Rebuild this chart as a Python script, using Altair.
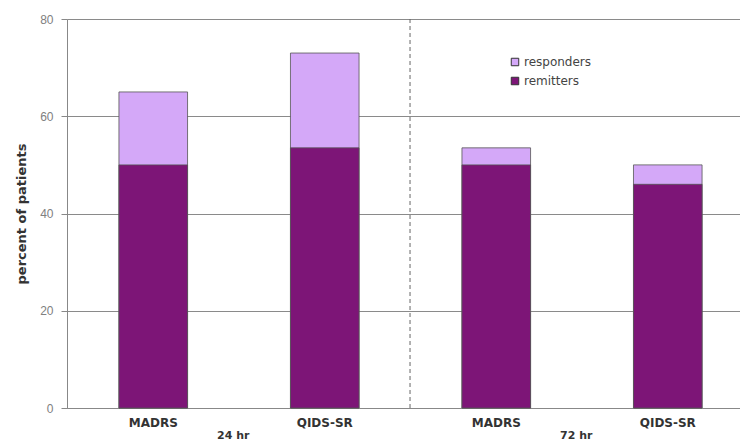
import altair as alt
import pandas as pd

ids = ["MADRS|24 hr", "QIDS-SR|24 hr", "MADRS|72 hr", "QIDS-SR|72 hr"]
timepoints = ["24 hr", "24 hr", "72 hr", "72 hr"]
responders = [65, 73, 53.5, 50]
remitters = [50, 53.5, 50, 46]
measures = ["responders", "remitters"]
colors = ["#D4A8F8", "#7D1577"]
separator_after = [2]  # dashed line after the 2nd bar (between 24 hr and 72 hr)

rows = []
for m, vals in zip(measures, [responders, remitters]):
    for i, v in zip(ids, vals):
        rows.append({"id": i, "measure": m, "value": v})
bars_df = pd.DataFrame(rows)

groups_df = pd.DataFrame({"id": [ids[0], ids[2]], "label": ["24 hr", "72 hr"]})
sep_df = pd.DataFrame({"pos": separator_after})

xscale = alt.Scale(domain=ids, paddingInner=0.6, paddingOuter=0.262, align=0.578)
yscale = alt.Scale(domain=[0, 80])

bars = alt.Chart(bars_df).mark_bar(stroke="#555555", strokeWidth=0.8).encode(
    x=alt.X("id:N", scale=xscale, sort=ids,
            axis=alt.Axis(title=None, labelAngle=0, ticks=False,
                          labelExpr="split(datum.label, '|')[0]",
                          labelFont="DejaVu Sans", labelFontWeight="bold",
                          labelFontSize=12, labelColor="#333333", labelPadding=9,
                          domainColor="#888888", grid=False)),
    y=alt.Y("value:Q", scale=yscale, stack=None,
            axis=alt.Axis(title="percent of patients", values=[0, 20, 40, 60, 80],
                          titleFont="DejaVu Sans", titleFontSize=13, titleFontWeight="bold",
                          titleColor="#333333", titlePadding=11,
                          labelFont="Liberation Sans", labelFontSize=12, labelColor="#808080",
                          labelPadding=8, tickSize=6, tickColor="#888888",
                          domainColor="#888888", gridColor="#8a8a8a", gridWidth=1)),
    color=alt.Color("measure:N", scale=alt.Scale(domain=measures, range=colors),
                    legend=alt.Legend(title=None, orient="none", legendX=442, legendY=37,
                                      symbolType="square", symbolSize=56,
                                      symbolStrokeColor="#333333", symbolStrokeWidth=1,
                                      labelFont="DejaVu Sans", labelFontSize=12,
                                      labelOffset=3,
                                      labelColor="#444444", rowPadding=7)),
    order=alt.Order("measure:N", sort="descending"),
)

glabels = alt.Chart(groups_df).mark_text(
    font="DejaVu Sans", fontSize=11, fontWeight="bold", color="#333333",
    baseline="top", dy=22, dx=80
).encode(
    x=alt.X("id:N", scale=xscale, sort=ids),
    y=alt.datum(0),
    text="label:N",
)

base = alt.layer(bars, glabels)

sep = alt.Chart(sep_df).mark_rule(color="#666666", strokeDash=[4, 3], strokeWidth=1).encode(
    x=alt.X("pos:Q", scale=alt.Scale(domain=[0, 3.924], nice=False, zero=False), axis=None)
)

chart = alt.layer(base, sep).resolve_scale(x="independent").properties(
    width=673, height=389,
    padding={"left": 67, "top": 19, "right": 0, "bottom": 34},
    autosize="none",
).configure_view(stroke=None).configure(background="white")

chart.save("out.html", embed_options={"renderer": "svg", "actions": False})
